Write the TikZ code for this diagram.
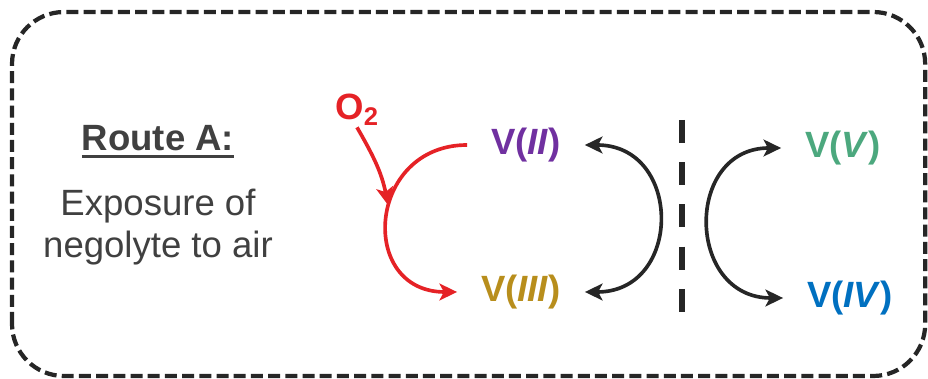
\documentclass[tikz,border=0pt]{standalone}
\usepackage{fontspec}
\setmainfont{Liberation Sans}
\usetikzlibrary{arrows.meta}
\definecolor{dInk}{RGB}{38,38,38}
\definecolor{dGrey}{RGB}{64,64,64}
\definecolor{dRed}{RGB}{229,34,38}
\definecolor{vTwo}{RGB}{112,48,160}
\definecolor{vThree}{RGB}{184,142,28}
\definecolor{vFour}{RGB}{0,112,192}
\definecolor{vFive}{RGB}{76,168,126}
\newcommand{\bigtext}{\fontsize{26}{30}\selectfont}
% heavy underline for the route heading
\newcommand{\heavyul}[1]{\setbox0\hbox{#1}%
  \rlap{\raisebox{-5pt}{\rule{\wd0}{2.2pt}}}\box0}
\tikzset{
  frame/.style={draw=dInk, line width=3pt, dash pattern=on 0.3cm off 0.13cm,
                rounded corners=1.3cm},
  title/.style={font=\bigtext\bfseries, text=dGrey},
  note/.style={font=\bigtext, text=dGrey, align=center},
  gas/.style={font=\bigtext\bfseries, text=dRed, inner sep=1pt},
  spec/.style={font=\bigtext\bfseries, inner sep=0pt, outer xsep=0.6cm},
  redox/.style={line width=2.6pt, draw=dInk,
                {Stealth[length=0.44cm,width=0.42cm,inset=0.11cm]}-{Stealth[length=0.44cm,width=0.42cm,inset=0.11cm]}},
  oxid/.style={line width=2.6pt, draw=dRed,
               -{Stealth[length=0.44cm,width=0.42cm,inset=0.11cm]}},
  divider/.style={draw=dInk, line width=4.7pt, dash pattern=on 0.575cm off 0.48cm},
}

\begin{document}
\begin{tikzpicture}
  \useasboundingbox (0,0) rectangle (23.2,9.475);

  % outer frame
  \draw[frame] (0.3,0.075) rectangle (23.13,9.175);

  % route label
  \node[title] (route) at (3.95,5.93) {\heavyul{Route A:}};
  \node[note] (expo) at (3.95,3.8) {Exposure of\\negolyte to air};

  % oxidation states
  \node[gas] (o2) at (8.925,6.725) {O\textsubscript{2}};
  \node[spec, text=vTwo] (vII) at (13.15,5.85) {V(\textit{II})};
  \node[spec, text=vThree] (vIII) at (13.025,2.175) {V(\textit{III})};
  \node[spec, text=vFive] (vV) at (21.075,5.775) {V(\textit{V})};
  \node[spec, text=vFour] (vIV) at (21.25,2.025) {V(\textit{IV})};
  \coordinate (hit) at (9.7,4.35);

  % air oxidation on the negolyte side
  \draw[oxid] (vII.west) .. controls +(-2.5,0) and +(-2.5,0) .. (vIII.west);
  \draw[oxid] (o2.south) to[out=-60,in=101] (hit);

  % membrane
  \draw[divider] (17.05,6.475) -- (17.05,1.675);

  % redox couples
  \draw[redox] (vII.east) .. controls +(2.45,0) and +(2.45,0) .. (vIII.east);
  \draw[redox] (vV.west) .. controls +(-2.43,0) and +(-2.43,0) .. (vIV.west);
\end{tikzpicture}
\end{document}
